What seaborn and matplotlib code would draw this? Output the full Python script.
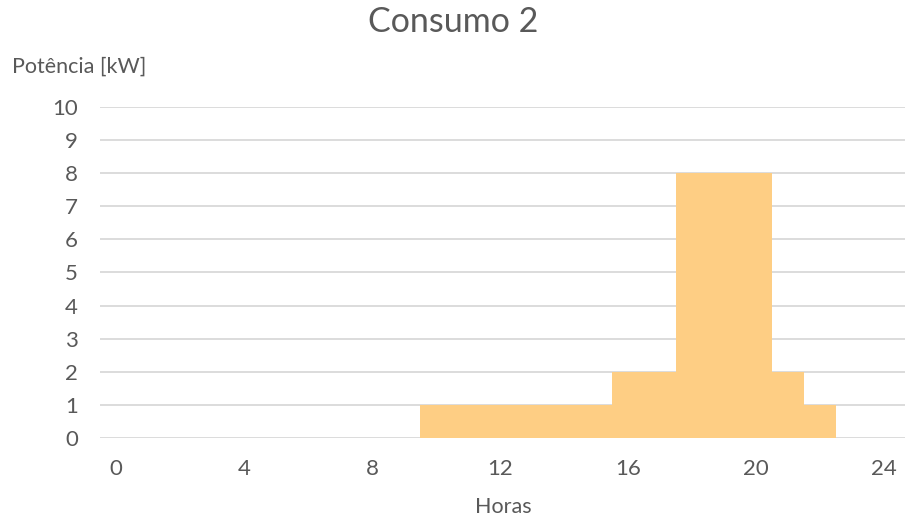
import matplotlib
matplotlib.use("Agg")
import matplotlib.pyplot as plt
import pandas as pd
import seaborn as sns

# Dados do consumo (potência por hora)
horas = list(range(24))
potencia = [0, 0, 0, 0, 0, 0, 0, 0, 0, 0,
            1, 1, 1, 1, 1, 1, 2, 2, 8, 8, 8, 2, 1, 0]
ticks_x = [0, 4, 8, 12, 16, 20, 24]
ticks_y = list(range(0, 11))

df = pd.DataFrame({"hora": horas, "potencia": potencia})

sns.set_theme(style="white")
plt.rcParams["font.family"] = ["Lato", "DejaVu Sans"]
cinza = "#595959"

fig = plt.figure(figsize=(9.07, 5.18), dpi=100)
ax = fig.add_axes([100 / 907, 1 - 438 / 518, 805 / 907, 331 / 518])

ax.yaxis.grid(True, color="#D9D9D9", linewidth=1.3)
ax.set_axisbelow(True)

sns.barplot(
    data=df,
    x="hora",
    y="potencia",
    native_scale=True,
    width=1,
    color="#FECE84",
    saturation=1,
    linewidth=0,
    ax=ax,
)

ax.set_xlim(-0.5, 24.65)
ax.set_ylim(0, 10)
ax.set_xticks(ticks_x)
ax.set_yticks(ticks_y)
ax.set_xlabel("")
ax.set_ylabel("")
ax.tick_params(axis="x", length=0, pad=15, labelsize=16, labelcolor=cinza)
ax.tick_params(axis="y", length=0, pad=16, labelsize=16, labelcolor=cinza)
for s in ax.spines.values():
    s.set_visible(False)

fig.text(0.5, 1 - 22 / 518, "Consumo 2", ha="center", va="center", fontsize=24.5, color=cinza)
fig.text(12 / 907, 1 - 67 / 518, "Potência [kW]", ha="left", va="center", fontsize=15.5, color=cinza)
fig.text(503 / 907, 1 - 507 / 518, "Horas", ha="center", va="center", fontsize=15.5, color=cinza)

fig.savefig("out.png", dpi=100)
